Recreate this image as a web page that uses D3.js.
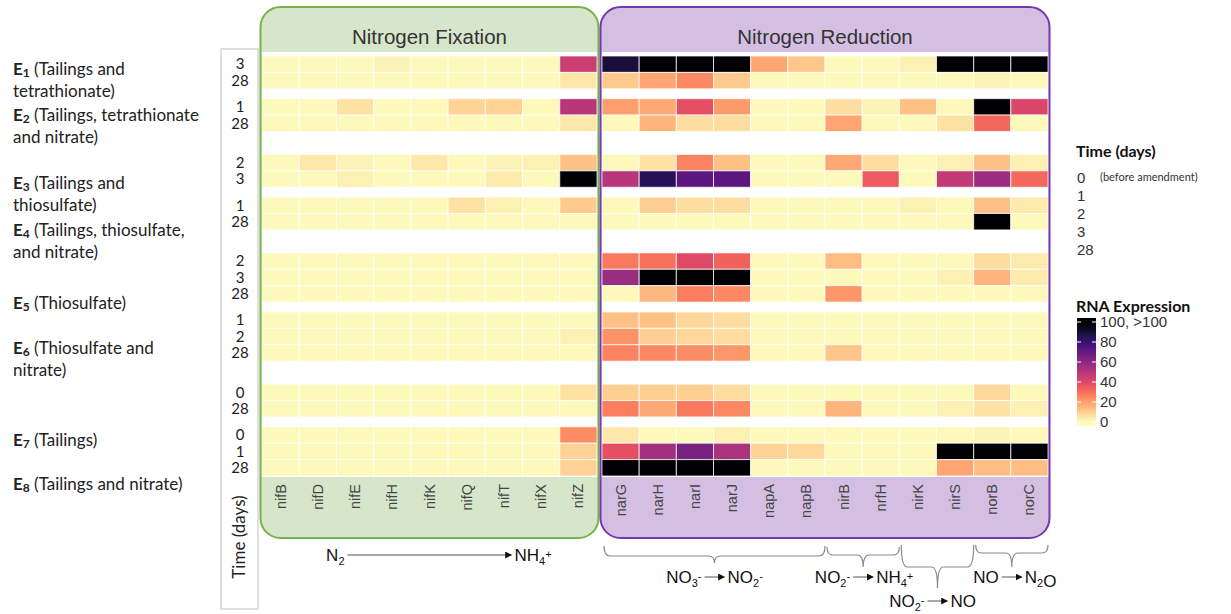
<!DOCTYPE html>
<html>
<head>
<meta charset="utf-8">
<script src="https://cdn.jsdelivr.net/npm/d3@7"></script>
<style>
  body { margin: 0; background: #fff; }
  svg { display: block; }
</style>
</head>
<body>
<svg id="chart" width="1231" height="614"></svg>
<script>
// genes (columns)
const fixGenes = ["nifB", "nifD", "nifE", "nifH", "nifK", "nifQ", "nifT", "nifX", "nifZ"];
const redGenes = ["narG", "narH", "narI", "narJ", "napA", "napB", "nirB", "nrfH", "nirK", "nirS", "norB", "norC"];

// experiments (row groups)
const expIds = ["1", "2", "3", "4", "5", "6", "7", "8"];
const expText = [
  ["(Tailings and", "tetrathionate)"],
  ["(Tailings, tetrathionate", "and nitrate)"],
  ["(Tailings and", "thiosulfate)"],
  ["(Tailings, thiosulfate,", "and nitrate)"],
  ["(Thiosulfate)"],
  ["(Thiosulfate and", "nitrate)"],
  ["(Tailings)"],
  ["(Tailings and nitrate)"]
];
const expDays = [[3, 28], [1, 28], [2, 3], [1, 28], [2, 3, 28], [1, 2, 28], [0, 28], [0, 1, 28]];

// RNA expression, one row per sample (19 rows)
const fixValues = [
  [1, 1, 1, 2, 1, 1, 1, 1, 45],
  [1, 1, 1, 1, 1, 1, 1, 1, 5],
  [1, 1, 6, 1, 1, 9, 9, 1, 50],
  [1, 1, 1, 1, 1, 1, 1, 1, 5],
  [1, 5, 2, 1, 5, 1, 2, 3, 13],
  [1, 1, 3, 1, 1, 1, 4, 1, 100],
  [1, 1, 1, 1, 1, 6, 3, 1, 11],
  [1, 1, 1, 1, 1, 1, 1, 1, 1],
  [1, 1, 1, 1, 1, 1, 1, 1, 1],
  [1, 1, 1, 1, 1, 1, 1, 1, 1],
  [1, 1, 1, 1, 1, 1, 1, 1, 1],
  [1, 1, 1, 1, 1, 1, 1, 1, 1],
  [1, 1, 1, 1, 1, 1, 1, 1, 3],
  [1, 1, 1, 1, 1, 1, 1, 1, 1],
  [1, 1, 1, 1, 1, 1, 1, 1, 6],
  [1, 1, 1, 1, 1, 1, 1, 1, 1],
  [1, 1, 1, 1, 1, 1, 1, 1, 24],
  [1, 1, 1, 1, 1, 1, 1, 1, 9],
  [1, 1, 1, 1, 1, 1, 1, 1, 9]
];
const redValues = [
  [89, 100, 100, 100, 19, 12, 1, 1, 3, 100, 100, 100],
  [11, 19, 25, 11, 1, 1, 1, 1, 1, 1, 2, 1],
  [20, 18, 38, 21, 1, 1, 7, 2, 13, 1, 100, 41],
  [1, 16, 7, 7, 1, 1, 19, 1, 1, 6, 32, 1],
  [1, 6, 26, 13, 1, 1, 18, 7, 1, 3, 13, 3],
  [50, 84, 72, 72, 1, 1, 1, 35, 1, 47, 56, 32],
  [1, 10, 7, 7, 1, 1, 1, 1, 3, 1, 13, 4],
  [1, 1, 1, 1, 1, 1, 1, 1, 1, 1, 100, 1],
  [28, 30, 40, 33, 1, 1, 14, 1, 1, 1, 7, 4],
  [57, 100, 100, 100, 1, 1, 1, 1, 1, 3, 16, 4],
  [1, 15, 27, 25, 1, 1, 22, 1, 1, 1, 1, 1],
  [13, 13, 8, 7, 1, 1, 1, 1, 1, 1, 1, 1],
  [23, 10, 8, 7, 1, 1, 1, 1, 1, 1, 1, 1],
  [26, 25, 24, 22, 1, 1, 12, 1, 1, 1, 1, 1],
  [10, 10, 10, 7, 1, 1, 1, 1, 1, 1, 8, 1],
  [27, 18, 28, 25, 1, 1, 16, 1, 1, 3, 6, 3],
  [5, 1, 1, 3, 1, 1, 1, 1, 1, 1, 2, 1],
  [38, 55, 65, 53, 9, 8, 1, 1, 1, 100, 100, 100],
  [100, 100, 100, 100, 1, 1, 1, 1, 1, 19, 14, 14]
];

// legend
const legendDays = ["0", "1", "2", "3", "28"];
const legendTicks = [0, 20, 40, 60, 80, 100];

// gene ranges under each brace, with the reaction shown below it
const braceSpans = [["narG", "napB"], ["nirB", "nrfH"], ["nirK", "nirS"], ["norB", "norC"]];
const braceLabels = [["NO_3^-", "NO_2^-"], ["NO_2^-", "NH_4^+"], ["NO_2^-", "NO"], ["NO", "N_2O"]];

// layout
const groupGap = [0.6, 1.4, 0.6, 1.4, 0.6, 1.4, 0.6];
const expLabelY = [75, 121, 189, 236, 309, 354, 446, 490];

const svg = d3.select("#chart");
const sans = "'Liberation Sans', Arial, sans-serif";
const cal = "Lato, 'Open Sans', sans-serif";
const narrow = "'Liberation Sans Narrow', 'Arial Narrow', 'Liberation Sans', sans-serif";

// rows in units
let rows = [];
let u = 0;
expDays.forEach((days, g) => {
  days.forEach(d => { rows.push({ exp: g, day: d, unit: u }); u += 1; });
  if (g < groupGap.length) u += groupGap[g];
});
const totalUnits = u;

const y = d3.scaleLinear().domain([0, totalUnits]).range([56, 476]);
const xFix = d3.scaleBand().domain(fixGenes).range([262, 597]);
const xRed = d3.scaleBand().domain(redGenes).range([602, 1048]);
const color = d3.scaleSequential(t => d3.interpolateMagma(1 - t)).domain([0, 100]).clamp(true);

const boxTop = 7, boxBottom = 538;

function drawPanel(x, genes, values, fill, stroke, title) {
  const x0 = x.range()[0] - 1.5, x1 = x.range()[1] + 1.5;
  svg.append("rect")
    .attr("x", x0).attr("y", boxTop)
    .attr("width", x1 - x0).attr("height", boxBottom - boxTop)
    .attr("rx", 20).attr("fill", fill);
  svg.append("rect")
    .attr("x", x0 + 1).attr("y", 52)
    .attr("width", x1 - x0 - 2).attr("height", y(totalUnits) + 1 - 52)
    .attr("fill", "#fff");
  svg.append("text")
    .attr("x", (x0 + x1) / 2).attr("y", 44)
    .attr("text-anchor", "middle")
    .style("font-family", sans).style("font-size", "20.5px").attr("fill", "#333")
    .text(title);

  const g = svg.append("g");
  rows.forEach((r, i) => {
    g.selectAll(null)
      .data(genes.map((gene, j) => ({ gene: gene, v: values[i][j] })))
      .enter()
      .append("rect")
      .attr("x", d => x(d.gene))
      .attr("y", y(r.unit))
      .attr("width", x.bandwidth())
      .attr("height", y(r.unit + 1) - y(r.unit))
      .attr("fill", d => color(d.v))
      .attr("stroke", "#fff")
      .attr("stroke-opacity", 0.75)
      .attr("stroke-width", 1)
      .append("title")
      .text(d => d.gene + ": " + d.v);
  });

  svg.selectAll(null)
    .data(genes)
    .enter()
    .append("text")
    .attr("transform", d => `translate(${x(d) + x.bandwidth() / 2},484) rotate(-90)`)
    .attr("dy", "0.35em")
    .attr("text-anchor", "end")
    .style("font-family", sans).style("font-size", "14.5px").attr("fill", "#444")
    .text(d => d);

  svg.append("rect")
    .attr("x", x0).attr("y", boxTop)
    .attr("width", x1 - x0).attr("height", boxBottom - boxTop)
    .attr("rx", 20).attr("fill", "none")
    .attr("stroke", stroke).attr("stroke-width", 2);
}

drawPanel(xFix, fixGenes, fixValues, "#d6e6ca", "#76b14a", "Nitrogen Fixation");
drawPanel(xRed, redGenes, redValues, "#d4bfe3", "#7637b0", "Nitrogen Reduction");

// time column on the left
svg.append("rect")
  .attr("x", 221).attr("y", 49).attr("width", 37).attr("height", 560)
  .attr("fill", "none").attr("stroke", "#d4d4d4").attr("stroke-width", 1.5);

svg.selectAll(".day")
  .data(rows)
  .enter()
  .append("text")
  .attr("x", 240)
  .attr("y", d => y(d.unit + 0.5))
  .attr("dy", "0.35em")
  .attr("text-anchor", "middle")
  .style("font-family", cal).style("font-size", "15px").attr("fill", "#222")
  .text(d => d.day);

svg.append("text")
  .attr("transform", "translate(239,537) rotate(-90)")
  .attr("dy", "0.35em")
  .attr("text-anchor", "middle")
  .style("font-family", cal).style("font-size", "17px").attr("fill", "#222")
  .text("Time (days)");

// experiment labels
expIds.forEach((id, i) => {
  const t = svg.append("text")
    .attr("x", 13).attr("y", expLabelY[i])
    .style("font-family", cal).style("font-size", "17px").attr("fill", "#222");
  t.append("tspan").style("font-weight", "bold").text("E");
  t.append("tspan").style("font-weight", "bold").style("font-size", "12px").attr("dy", 2).text(id);
  t.append("tspan").attr("dy", -2).text(" " + expText[i][0]);
  if (expText[i][1]) {
    svg.append("text")
      .attr("x", 13).attr("y", expLabelY[i] + 22)
      .style("font-family", cal).style("font-size", "17px").attr("fill", "#222")
      .text(expText[i][1]);
  }
});

// legend: time
svg.append("text")
  .attr("x", 1076).attr("y", 157)
  .style("font-family", cal).style("font-size", "16px").style("font-weight", "bold").attr("fill", "#111")
  .text("Time (days)");
svg.selectAll(".lday")
  .data(legendDays)
  .enter()
  .append("text")
  .attr("x", 1077)
  .attr("y", (d, i) => 183 + i * 18)
  .style("font-family", sans).style("font-size", "15px").attr("fill", "#333")
  .text(d => d);
svg.append("text")
  .attr("x", 1100).attr("y", 181)
  .style("font-family", cal).style("font-size", "11px").attr("fill", "#333")
  .text("(before amendment)");

// legend: colour bar
const ly = d3.scaleLinear().domain([0, 100]).range([422, 322]);
const defs = svg.append("defs");
const grad = defs.append("linearGradient")
  .attr("id", "rnaGrad").attr("x1", 0).attr("y1", 1).attr("x2", 0).attr("y2", 0);
d3.range(0, 1.0001, 0.05).forEach(f => {
  const v = -4 + f * 108;
  grad.append("stop").attr("offset", f).attr("stop-color", color(v));
});
svg.append("text")
  .attr("x", 1076).attr("y", 312)
  .style("font-family", cal).style("font-size", "16px").style("font-weight", "bold").attr("fill", "#111")
  .text("RNA Expression");
svg.append("rect")
  .attr("x", 1077).attr("y", ly(104))
  .attr("width", 19).attr("height", ly(-4) - ly(104))
  .attr("fill", "url(#rnaGrad)");
svg.selectAll(".tickL")
  .data(legendTicks)
  .enter()
  .append("g")
  .each(function (d) {
    const g = d3.select(this);
    g.append("line").attr("x1", 1077).attr("x2", 1081).attr("y1", ly(d)).attr("y2", ly(d))
      .attr("stroke", "#fff").attr("stroke-width", 1);
    g.append("line").attr("x1", 1092).attr("x2", 1096).attr("y1", ly(d)).attr("y2", ly(d))
      .attr("stroke", "#fff").attr("stroke-width", 1);
    g.append("text")
      .attr("x", 1100).attr("y", ly(d)).attr("dy", "0.35em")
      .style("font-family", sans).style("font-size", "15px").attr("fill", "#333")
      .text(d === 100 ? "100, >100" : d);
  });

// arrows and reactions
defs.append("marker")
  .attr("id", "head").attr("viewBox", "0 0 10 10")
  .attr("refX", 9).attr("refY", 5)
  .attr("markerWidth", 7).attr("markerHeight", 7)
  .attr("markerUnits", "userSpaceOnUse")
  .attr("orient", "auto")
  .append("path").attr("d", "M0,0 L10,5 L0,10 Z").attr("fill", "#111");

function chem(sel, s) {
  // s like "NO_3^-" : _ subscript, ^ superscript
  const re = /([A-Za-z]+)|_(\S)|\^(\S)/g;
  let m;
  while ((m = re.exec(s)) !== null) {
    if (m[1]) sel.append("tspan").attr("dy", 0).text(m[1]);
    else if (m[2]) {
      sel.append("tspan").style("font-size", "11px").attr("dy", 4).text(m[2]);
      sel.append("tspan").attr("dy", -4).text("");
    } else if (m[3]) {
      sel.append("tspan").style("font-size", "11px").attr("dy", -7).text(m[3]);
      sel.append("tspan").attr("dy", 7).text("");
    }
  }
}

function reaction(cx, base, from, to, halfLen) {
  const a0 = cx - halfLen, a1 = cx + halfLen;
  const t0 = svg.append("text").attr("x", a0 - 3).attr("y", base).attr("text-anchor", "end")
    .style("font-family", narrow).style("font-size", "17px").attr("fill", "#111");
  chem(t0, from);
  svg.append("line").attr("x1", a0).attr("x2", a1).attr("y1", base - 6).attr("y2", base - 6)
    .attr("stroke", "#555").attr("stroke-width", 1).attr("marker-end", "url(#head)");
  const t1 = svg.append("text").attr("x", a1 + 3).attr("y", base)
    .style("font-family", narrow).style("font-size", "17px").attr("fill", "#111");
  chem(t1, to);
}

const fixMid = (xFix.range()[0] + xFix.range()[1]) / 2;
reaction(fixMid, 561, "N_2", "NH_4^+", 82);

const braceShape = [
  { top: 546, h: 556, tip: 563, base: 583 },
  { top: 547, h: 555, tip: 567, base: 583 },
  { top: 545, h: 567, tip: 588, base: 607 },
  { top: 545, h: 553, tip: 567, base: 583 }
];
braceSpans.forEach((sp, i) => {
  const x0 = xRed(sp[0]) + 2, x1 = xRed(sp[1]) + xRed.bandwidth();
  const xc = (x0 + x1) / 2;
  const b = braceShape[i];
  const r = 6;
  const p = d3.path();
  p.moveTo(x0, b.top);
  p.quadraticCurveTo(x0, b.h, x0 + r, b.h);
  p.lineTo(xc - r, b.h);
  p.quadraticCurveTo(xc, b.h, xc, b.tip);
  p.quadraticCurveTo(xc, b.h, xc + r, b.h);
  p.lineTo(x1 - r, b.h);
  p.quadraticCurveTo(x1, b.h, x1, b.top);
  svg.append("path").attr("d", p.toString())
    .attr("fill", "none").attr("stroke", "#8a8a8a").attr("stroke-width", 1.2);
  reaction(xc, b.base, braceLabels[i][0], braceLabels[i][1], 10);
});
</script>
</body>
</html>
